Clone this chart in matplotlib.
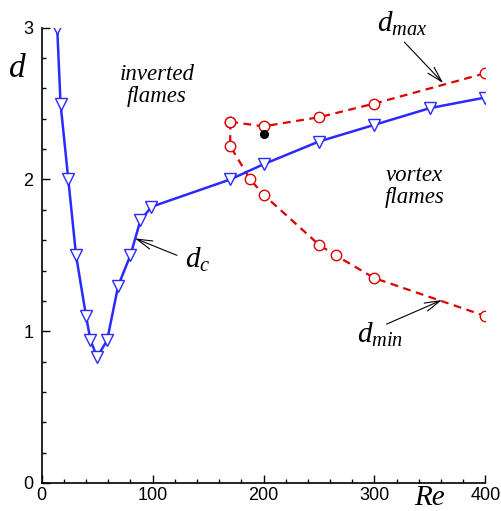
import numpy as np
import matplotlib
matplotlib.use("Agg")
import matplotlib.pyplot as plt

plt.rcParams['mathtext.fontset'] = 'custom'
plt.rcParams['mathtext.it'] = 'Liberation Serif:italic'
plt.rcParams['mathtext.rm'] = 'Liberation Serif'

# critical diameter d_c
re_c = [14, 17, 24, 31, 40, 44, 50, 59, 69, 80, 89, 99, 170, 200, 250, 300, 350, 400]
d_c = [3.0, 2.5, 2.0, 1.5, 1.1, 0.94, 0.83, 0.94, 1.3, 1.5, 1.73, 1.82, 2.0, 2.1, 2.25, 2.36, 2.47, 2.54]

# upper branch d_max
re_max = [170, 200, 250, 300, 400]
d_max = [2.38, 2.35, 2.41, 2.5, 2.7]

# lower branch d_min
re_min = [170, 170, 188, 200, 250, 265, 300, 400]
d_min = [2.38, 2.22, 2.0, 1.9, 1.57, 1.5, 1.35, 1.1]

# single black point
re_pt = [200]
d_pt = [2.3]

blue = '#2a2aff'
red = '#dd0000'

fig = plt.figure(figsize=(5.01, 5.11), dpi=100)
ax = fig.add_axes([0.0832, 0.0548, 0.8855, 0.891])

ax.plot(re_max, d_max, '--', color=red, lw=1.6, dashes=(3.5, 2.5), marker='o', ms=7.5,
        mfc='white', mec=red, mew=1.0, zorder=2)
ax.plot(re_min, d_min, '--', color=red, lw=1.6, dashes=(3.5, 2.5), marker='o', ms=7.5,
        mfc='white', mec=red, mew=1.0, zorder=2)
ax.plot(re_c, d_c, '-', color=blue, lw=1.8, marker='v', ms=8,
        mfc='white', mec=blue, mew=1.0, zorder=3)
ax.plot(re_pt, d_pt, 'o', color='black', ms=5.5, zorder=4)

ax.set_xlim(0, 400)
ax.set_ylim(0, 3)
ax.set_xticks([0, 100, 200, 300, 400])
ax.set_yticks([0, 1, 2, 3])
ax.set_xticks(np.arange(0, 401, 20), minor=True)
ax.set_yticks(np.arange(0, 3.01, 0.2), minor=True)
ax.tick_params(which='both', direction='in', width=1.0)
ax.tick_params(which='major', length=6, labelsize=13)
ax.tick_params(axis='x', which='major', pad=3)
ax.tick_params(axis='y', which='major', pad=6)
ax.tick_params(which='minor', length=3)
for lab in ax.get_xticklabels() + ax.get_yticklabels():
    lab.set_fontfamily('Liberation Sans')

for s in ['top', 'right']:
    ax.spines[s].set_visible(False)
for s in ['left', 'bottom']:
    ax.spines[s].set_linewidth(1.2)

serif = dict(fontfamily='Liberation Serif', style='italic')
ax.text(-0.055, 0.91, 'd', transform=ax.transAxes, fontsize=24, ha='center', va='center', **serif)
ax.text(0.875, -0.032, 'Re', transform=ax.transAxes, fontsize=21, ha='center', va='center', **serif)

ax.text(104, 2.62, 'inverted\nflames', fontsize=16.5, ha='center', va='center', linespacing=1.05, **serif)
ax.text(336, 1.955, 'vortex\nflames', fontsize=16.5, ha='center', va='center', linespacing=1.05, **serif)

arrow = dict(arrowstyle='->,head_length=0.8,head_width=0.22', lw=0.8, color='black',
             mutation_scale=14, shrinkA=0, shrinkB=0)
ax.annotate('', xy=(362, 2.635), xytext=(327, 2.905), arrowprops=arrow)
ax.annotate('', xy=(84, 1.612), xytext=(122, 1.50), arrowprops=arrow)
ax.annotate('', xy=(361, 1.206), xytext=(311, 1.047), arrowprops=arrow)

ax.text(302, 2.97, r'$d_{max}$', fontsize=21, ha='left', va='baseline')
ax.text(129, 1.416, r'$d_c$', fontsize=21, ha='left', va='baseline')
ax.text(284, 0.922, r'$d_{min}$', fontsize=21, ha='left', va='baseline')

fig.savefig('out.png', dpi=100)
